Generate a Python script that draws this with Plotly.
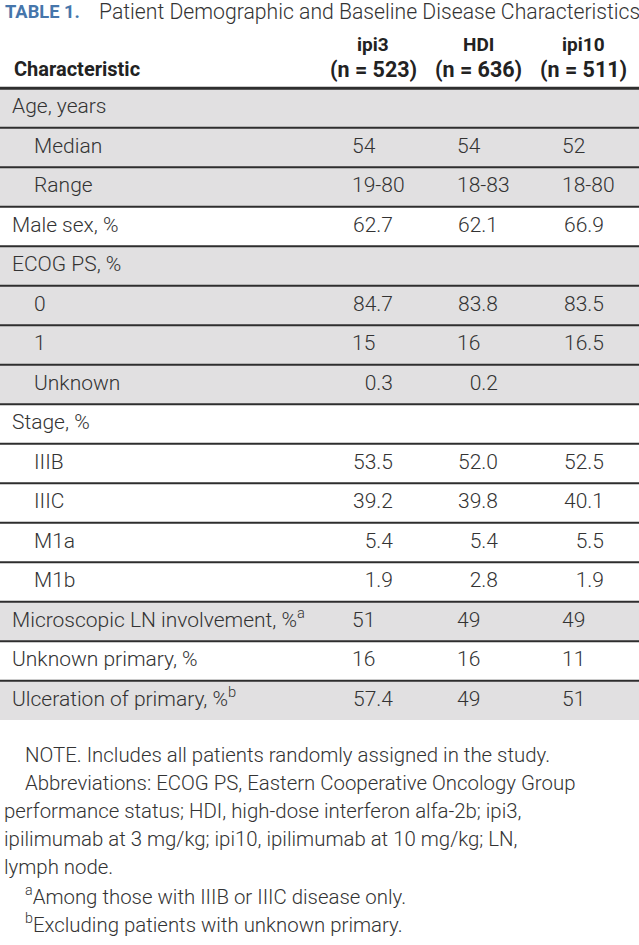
import plotly.graph_objects as go

# ---------------- data ----------------
title_tag = "TABLE 1."
title_text = "Patient Demographic and Baseline Disease Characteristics"
stub_header = "Characteristic"
col_headers = ["ipi3", "HDI", "ipi10"]
col_ns = ["(n = 523)", "(n = 636)", "(n = 511)"]

row_labels = [
    "Age, years", "Median", "Range", "Male sex, %", "ECOG PS, %", "0", "1",
    "Unknown", "Stage, %", "IIIB", "IIIC", "M1a", "M1b",
    "Microscopic LN involvement, %<sup>a</sup>", "Unknown primary, %",
    "Ulceration of primary, %<sup>b</sup>",
]
row_level = [0, 1, 1, 0, 0, 1, 1, 1, 0, 1, 1, 1, 1, 0, 0, 0]

ipi3_vals = ["", "54", "19-80", "62.7", "", "84.7", "15", "0.3", "",
             "53.5", "39.2", "5.4", "1.9", "51", "16", "57.4"]
hdi_vals = ["", "54", "18-83", "62.1", "", "83.8", "16", "0.2", "",
            "52.0", "39.8", "5.4", "2.8", "49", "16", "49"]
ipi10_vals = ["", "52", "18-80", "66.9", "", "83.5", "16.5", "", "",
              "52.5", "40.1", "5.5", "1.9", "49", "11", "51"]

footnotes = [
    "NOTE. Includes all patients randomly assigned in the study.",
    "Abbreviations: ECOG PS, Eastern Cooperative Oncology Group",
    "performance status; HDI, high-dose interferon alfa-2b; ipi3,",
    "ipilimumab at 3 mg/kg; ipi10, ipilimumab at 10 mg/kg; LN,",
    "lymph node.",
    "<sup>a</sup>Among those with IIIB or IIIC disease only.",
    "<sup>b</sup>Excluding patients with unknown primary.",
]
footnote_indent = [1, 1, 0, 0, 0, 1, 1]

# ---------------- layout constants ----------------
W, H = 639, 945
ROW0 = 108.0      # pixel centre of first body row
RH = 39.5         # row height in px
FONT = "Roboto"
TXT = "#333333"
GRAY = "#e1e0e1"
LINE = "#2e2e2e"
BLUE = "#4676ab"

col_left = [352, 457, 562]
col_right = [393, 498, 604]
col_center = [373, 478, 583]


def row_of(py):
    return (py - ROW0) / RH


fig = go.Figure()

# row shading (alternating groups)
group = []
g = -1
for lv in row_level:
    if lv == 0:
        g += 1
    group.append(g)
shaded = [i for i, gi in enumerate(group) if gi % 2 == 0]
fig.add_trace(go.Bar(
    y=shaded, x=[W] * len(shaded), base=0, orientation="h", width=1,
    marker=dict(color=GRAY, line=dict(width=0)), hoverinfo="skip",
    showlegend=False,
))

body_font = dict(family=FONT, size=21, color=TXT, weight=300)

# row labels
fig.add_trace(go.Scatter(
    x=[12 + 22 * lv for lv in row_level], y=list(range(len(row_labels))),
    mode="text", text=row_labels, textposition="middle right",
    textfont=body_font, hoverinfo="skip", showlegend=False, cliponaxis=False,
))

# value columns: decimals aligned on the right, others on the left
for ci, vals in enumerate([ipi3_vals, hdi_vals, ipi10_vals]):
    left_idx = [i for i, v in enumerate(vals) if v and "." not in v]
    right_idx = [i for i, v in enumerate(vals) if v and "." in v]
    fig.add_trace(go.Scatter(
        x=[col_left[ci]] * len(left_idx), y=left_idx,
        text=[vals[i] for i in left_idx], mode="text",
        textposition="middle right", textfont=body_font,
        hoverinfo="skip", showlegend=False, cliponaxis=False,
    ))
    fig.add_trace(go.Scatter(
        x=[col_right[ci]] * len(right_idx), y=right_idx,
        text=[vals[i] for i in right_idx], mode="text",
        textposition="middle left", textfont=body_font,
        hoverinfo="skip", showlegend=False, cliponaxis=False,
    ))

shapes = []
shapes.append(dict(type="line", xref="paper", x0=0, x1=1, yref="y",
                   y0=-0.5, y1=-0.5, line=dict(color=LINE, width=3)))
for i in range(len(row_labels) - 1):
    shapes.append(dict(type="line", xref="paper", x0=0, x1=1, yref="y",
                       y0=i + 0.5, y1=i + 0.5, line=dict(color=LINE, width=2)))

annotations = []
annotations.append(dict(x=12, y=row_of(69), xref="x", yref="y", text=stub_header,
                        showarrow=False, xanchor="left", yanchor="middle",
                        font=dict(family=FONT, size=20, color="#222222", weight=700)))
for ci in range(3):
    annotations.append(dict(x=col_center[ci], y=row_of(44), xref="x", yref="y",
                            text=col_headers[ci], showarrow=False, xanchor="center",
                            yanchor="middle",
                            font=dict(family=FONT, size=19, color="#222222", weight=700)))
    annotations.append(dict(x=col_center[ci], y=row_of(69), xref="x", yref="y",
                            text=col_ns[ci], showarrow=False, xanchor="center",
                            yanchor="middle",
                            font=dict(family=FONT, size=21.5, color="#222222", weight=700)))

# title
annotations.append(dict(x=3, y=row_of(11), xref="x", yref="y",
                        text=title_tag, showarrow=False, xanchor="left",
                        yanchor="middle",
                        font=dict(family=FONT, size=18.3, color=BLUE, weight=700)))
annotations.append(dict(x=97, y=row_of(11), xref="x", yref="y",
                        text=title_text, showarrow=False, xanchor="left",
                        yanchor="middle",
                        font=dict(family=FONT, size=21.2, color=TXT, weight=300)))

# footnotes
for k, (t, ind) in enumerate(zip(footnotes, footnote_indent)):
    annotations.append(dict(x=2 + 21 * ind, y=row_of(755 + 28.1 * k),
                            xref="x", yref="y", text=t, showarrow=False,
                            xanchor="left", yanchor="middle",
                            font=dict(family=FONT, size=20.4, color=TXT, weight=300)))

fig.update_layout(
    width=W, height=H, margin=dict(l=0, r=0, t=0, b=0),
    paper_bgcolor="white", plot_bgcolor="rgba(0,0,0,0)",
    xaxis=dict(range=[0, W], domain=[0, 1], visible=False, fixedrange=True),
    yaxis=dict(range=[row_of(H), row_of(0)], domain=[0, 1], visible=False,
               fixedrange=True),
    shapes=shapes, annotations=annotations, bargap=0, showlegend=False,
)

# remove the browser's default page margin so the figure fills the window
fig.write_html("out.html", config={"displayModeBar": False},
               post_script="document.body.style.margin='0';")
